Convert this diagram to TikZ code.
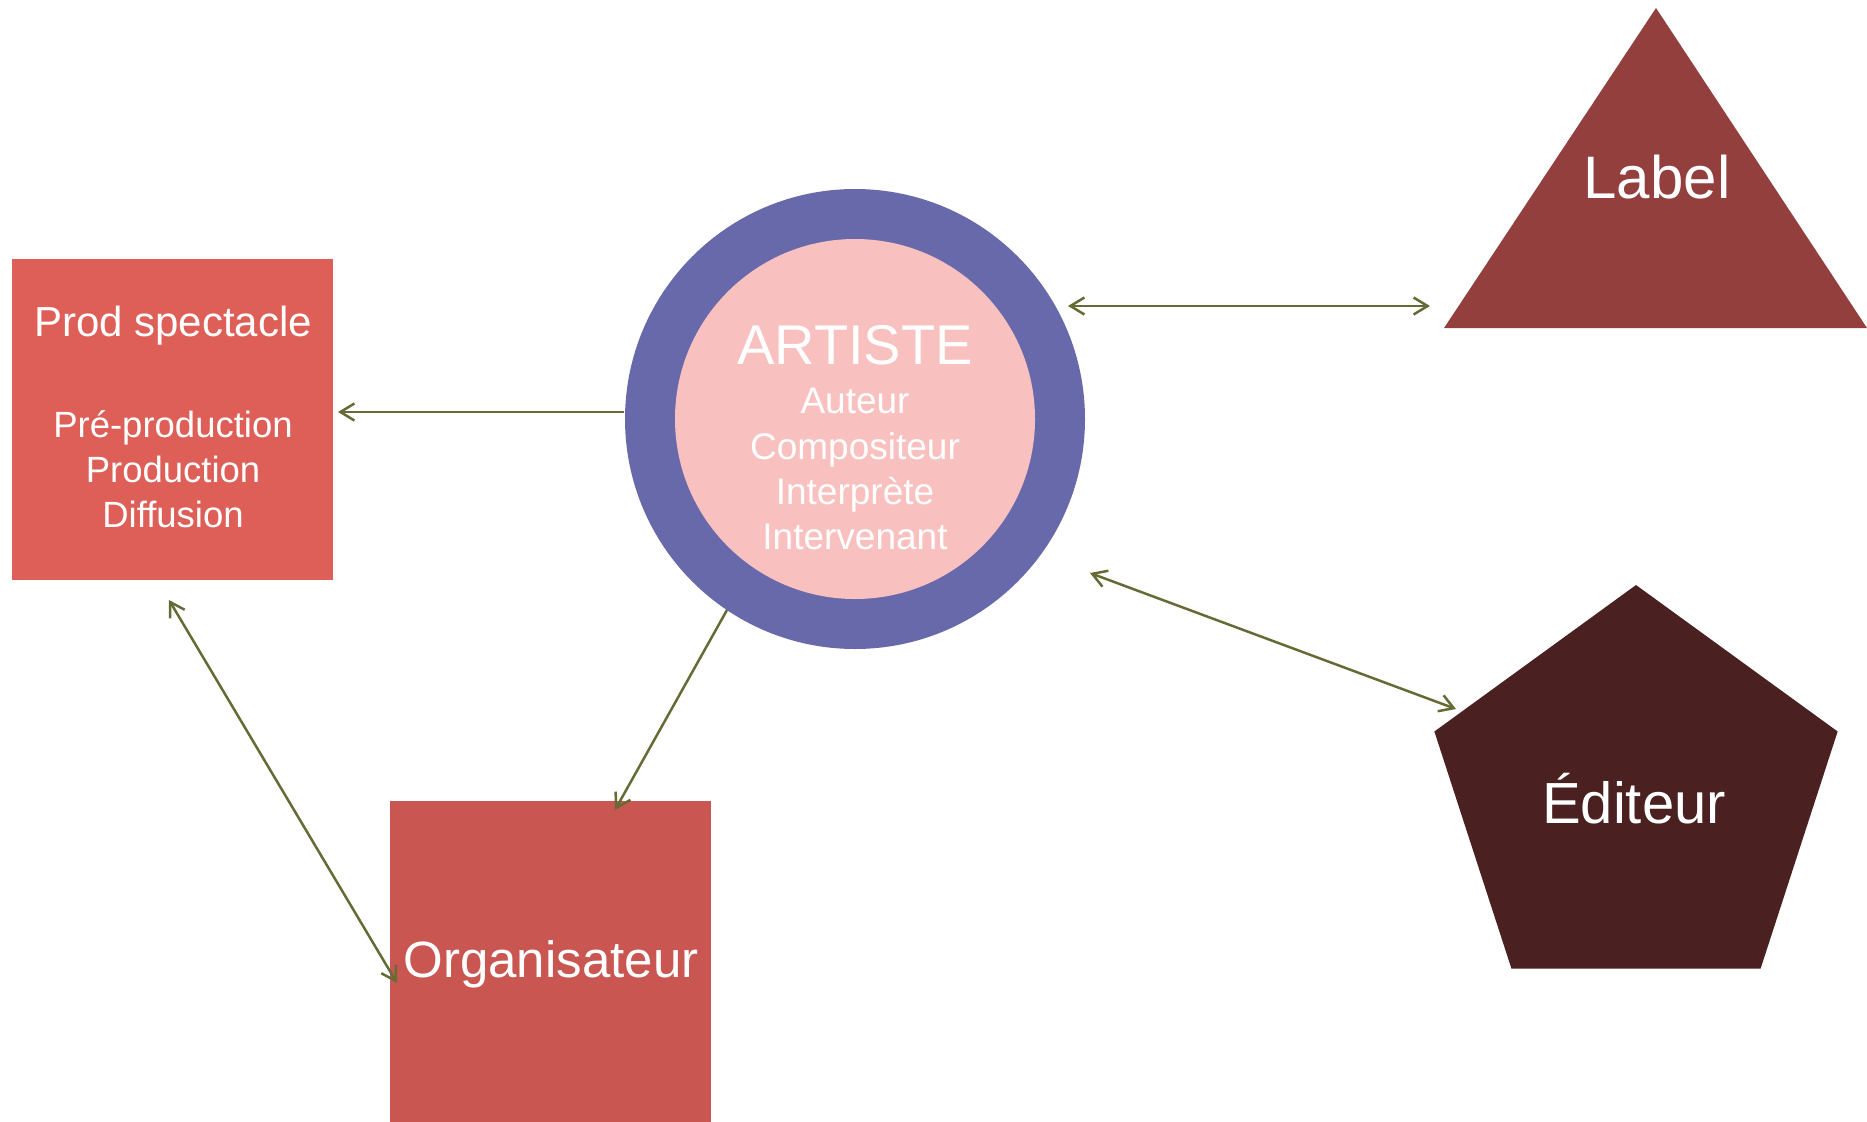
\documentclass[tikz,border=0pt]{standalone}
\usepackage{fontspec}
\setmainfont{Liberation Sans}
\usetikzlibrary{arrows.meta,shapes.geometric}
\definecolor{prodc}{HTML}{DE5F57}
\definecolor{orgc}{HTML}{C95651}
\definecolor{outerc}{HTML}{6869AA}
\definecolor{innerc}{HTML}{F9C0C0}
\definecolor{labelc}{HTML}{923F3D}
\definecolor{editc}{HTML}{4A2020}
\definecolor{arrowc}{HTML}{666B35}
\begin{document}
\begin{tikzpicture}[x=1pt,y=-1pt,
  box/.style={rectangle, inner sep=0pt, minimum width=321pt, minimum height=321pt, anchor=north west},
  txt/.style={text=white, inner sep=0pt, anchor=base},
  conn/.style={draw=arrowc, line width=2.5pt, -{Straight Barb[length=14pt,width=17pt]}},
  conn2/.style={draw=arrowc, line width=2.5pt, {Straight Barb[length=14pt,width=17pt]}-{Straight Barb[length=14pt,width=17pt]}}]
\useasboundingbox (0,0) rectangle (1867,1121);
% shapes
\node[box, fill=prodc] (prod) at (12,259) {};
\node[box, fill=orgc] (org) at (390,801) {};
\node[circle, fill=outerc, minimum size=460pt, inner sep=0pt] (art) at (855,419) {};
\node[circle, fill=innerc, minimum size=360pt, inner sep=0pt] (artin) at (855,419) {};
\fill[labelc] (1656,8) -- (1444,328) -- (1867,328) -- cycle;
\node[regular polygon, regular polygon sides=5, minimum size=424pt, inner sep=0pt, fill=editc] (edit) at (1636,797) {};
% texts
\node[txt, font=\fontsize{42}{45}\selectfont] (t1) at (173,336) {Prod spectacle};
\node[txt, font=\fontsize{36.5}{45}\selectfont] (t2) at (173,437) {Pré-production};
\node[txt, font=\fontsize{36.5}{45}\selectfont] (t3) at (173,482) {Production};
\node[txt, font=\fontsize{36.5}{45}\selectfont] (t4) at (173,527) {Diffusion};
\node[txt, font=\fontsize{56}{60}\selectfont] (a1) at (855,364) {ARTISTE};
\node[txt, font=\fontsize{37}{45}\selectfont] (a2) at (855,413) {Auteur};
\node[txt, font=\fontsize{37}{45}\selectfont] (a3) at (855,459) {Compositeur};
\node[txt, font=\fontsize{37}{45}\selectfont] (a4) at (855,504) {Interprète};
\node[txt, font=\fontsize{37}{45}\selectfont] (a5) at (855,549) {Intervenant};
\node[txt, font=\fontsize{60}{64}\selectfont] (lab) at (1657,198) {Label};
\node[txt, font=\fontsize{58}{62}\selectfont] (edt) at (1634,823) {Éditeur};
\node[txt, font=\fontsize{51}{56}\selectfont] (orgt) at (551,977) {Organisateur};
% connector end points
\coordinate (c1) at (624,412);  \coordinate (c2) at (338,412);
\coordinate (c3) at (1068,306); \coordinate (c4) at (1430,306);
\coordinate (c5) at (1090,573); \coordinate (c6) at (1456,709);
\coordinate (c7) at (727,610);  \coordinate (c8) at (615,810);
\coordinate (c9) at (169,600);  \coordinate (c10) at (397,983);
% connectors
\draw[conn] (c1) -- (c2);
\draw[conn2] (c3) -- (c4);
\draw[conn2] (c5) -- (c6);
\draw[conn] (c7) -- (c8);
\draw[conn2] (c9) -- (c10);
\end{tikzpicture}
\end{document}
